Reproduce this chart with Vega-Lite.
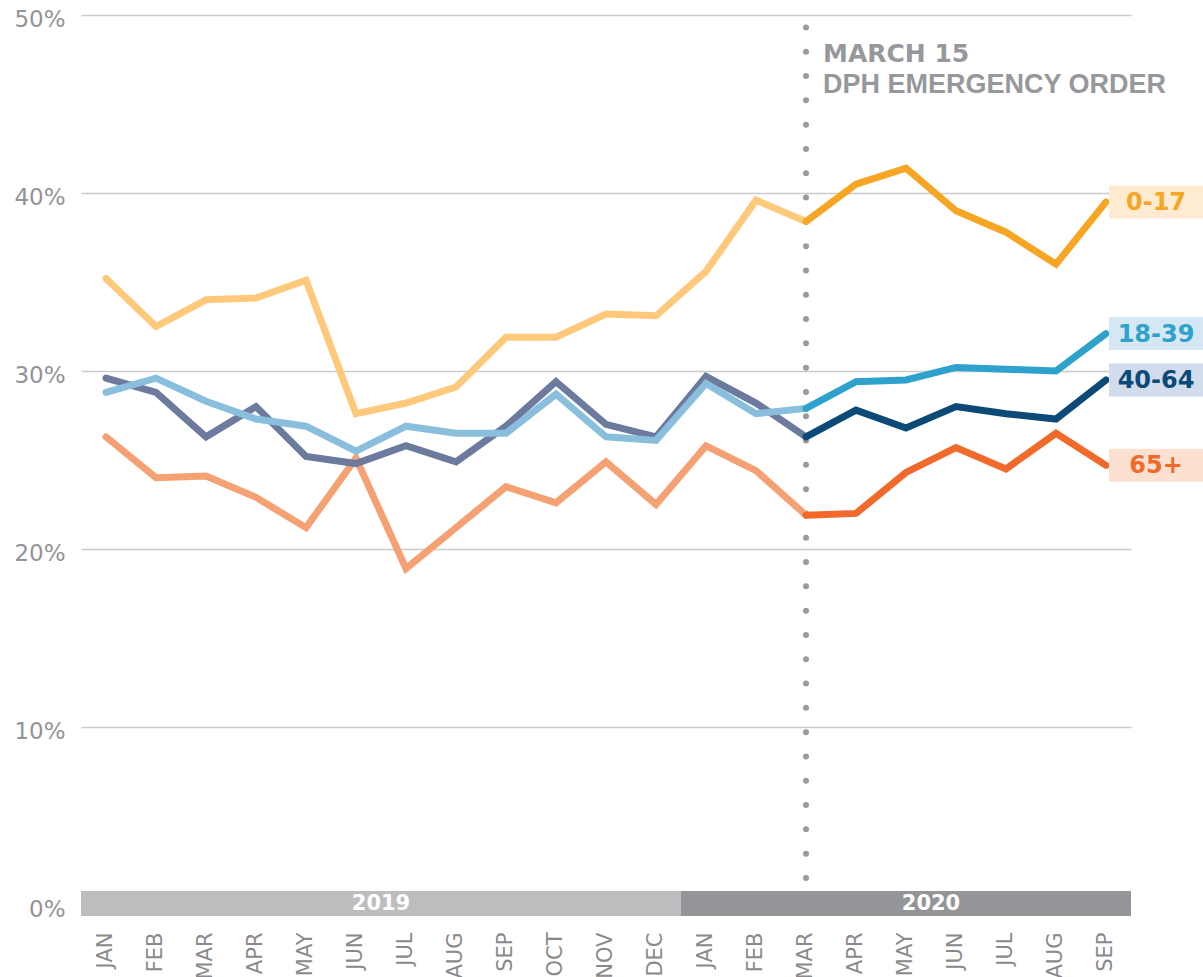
{
  "$schema": "https://vega.github.io/schema/vega-lite/v6.json",
  "width": 1050,
  "height": 890,
  "autosize": "none",
  "padding": {"left": 81, "top": 15, "right": 72, "bottom": 72},
  "background": "white",
  "config": {
    "view": {"stroke": null},
    "axis": {"labelFont": "DejaVu Sans", "labelColor": "#8d8d8f", "domain": false, "ticks": false, "title": null}
  },
  "datasets": {
    "lines": [
      {"m": "2019 JAN", "k": "65+ a", "v": 26.3}, {"m": "2019 FEB", "k": "65+ a", "v": 24.0}, {"m": "2019 MAR", "k": "65+ a", "v": 24.1}, {"m": "2019 APR", "k": "65+ a", "v": 22.9}, {"m": "2019 MAY", "k": "65+ a", "v": 21.2}, {"m": "2019 JUN", "k": "65+ a", "v": 25.1}, {"m": "2019 JUL", "k": "65+ a", "v": 18.9}, {"m": "2019 AUG", "k": "65+ a", "v": 21.2}, {"m": "2019 SEP", "k": "65+ a", "v": 23.5}, {"m": "2019 OCT", "k": "65+ a", "v": 22.6}, {"m": "2019 NOV", "k": "65+ a", "v": 24.9}, {"m": "2019 DEC", "k": "65+ a", "v": 22.5}, {"m": "2020 JAN", "k": "65+ a", "v": 25.8}, {"m": "2020 FEB", "k": "65+ a", "v": 24.4}, {"m": "2020 MAR", "k": "65+ a", "v": 21.9},
      {"m": "2020 MAR", "k": "65+ b", "v": 21.9}, {"m": "2020 APR", "k": "65+ b", "v": 22.0}, {"m": "2020 MAY", "k": "65+ b", "v": 24.3}, {"m": "2020 JUN", "k": "65+ b", "v": 25.7}, {"m": "2020 JUL", "k": "65+ b", "v": 24.5}, {"m": "2020 AUG", "k": "65+ b", "v": 26.5}, {"m": "2020 SEP", "k": "65+ b", "v": 24.7},
      {"m": "2019 JAN", "k": "40-64 a", "v": 29.6}, {"m": "2019 FEB", "k": "40-64 a", "v": 28.8}, {"m": "2019 MAR", "k": "40-64 a", "v": 26.3}, {"m": "2019 APR", "k": "40-64 a", "v": 28.0}, {"m": "2019 MAY", "k": "40-64 a", "v": 25.2}, {"m": "2019 JUN", "k": "40-64 a", "v": 24.8}, {"m": "2019 JUL", "k": "40-64 a", "v": 25.8}, {"m": "2019 AUG", "k": "40-64 a", "v": 24.9}, {"m": "2019 SEP", "k": "40-64 a", "v": 26.9}, {"m": "2019 OCT", "k": "40-64 a", "v": 29.4}, {"m": "2019 NOV", "k": "40-64 a", "v": 27.0}, {"m": "2019 DEC", "k": "40-64 a", "v": 26.3}, {"m": "2020 JAN", "k": "40-64 a", "v": 29.7}, {"m": "2020 FEB", "k": "40-64 a", "v": 28.2}, {"m": "2020 MAR", "k": "40-64 a", "v": 26.3},
      {"m": "2020 MAR", "k": "40-64 b", "v": 26.3}, {"m": "2020 APR", "k": "40-64 b", "v": 27.8}, {"m": "2020 MAY", "k": "40-64 b", "v": 26.8}, {"m": "2020 JUN", "k": "40-64 b", "v": 28.0}, {"m": "2020 JUL", "k": "40-64 b", "v": 27.6}, {"m": "2020 AUG", "k": "40-64 b", "v": 27.3}, {"m": "2020 SEP", "k": "40-64 b", "v": 29.5},
      {"m": "2019 JAN", "k": "18-39 a", "v": 28.8}, {"m": "2019 FEB", "k": "18-39 a", "v": 29.6}, {"m": "2019 MAR", "k": "18-39 a", "v": 28.3}, {"m": "2019 APR", "k": "18-39 a", "v": 27.3}, {"m": "2019 MAY", "k": "18-39 a", "v": 26.9}, {"m": "2019 JUN", "k": "18-39 a", "v": 25.5}, {"m": "2019 JUL", "k": "18-39 a", "v": 26.9}, {"m": "2019 AUG", "k": "18-39 a", "v": 26.5}, {"m": "2019 SEP", "k": "18-39 a", "v": 26.5}, {"m": "2019 OCT", "k": "18-39 a", "v": 28.7}, {"m": "2019 NOV", "k": "18-39 a", "v": 26.3}, {"m": "2019 DEC", "k": "18-39 a", "v": 26.1}, {"m": "2020 JAN", "k": "18-39 a", "v": 29.3}, {"m": "2020 FEB", "k": "18-39 a", "v": 27.6}, {"m": "2020 MAR", "k": "18-39 a", "v": 27.9},
      {"m": "2020 MAR", "k": "18-39 b", "v": 27.9}, {"m": "2020 APR", "k": "18-39 b", "v": 29.4}, {"m": "2020 MAY", "k": "18-39 b", "v": 29.5}, {"m": "2020 JUN", "k": "18-39 b", "v": 30.2}, {"m": "2020 JUL", "k": "18-39 b", "v": 30.1}, {"m": "2020 AUG", "k": "18-39 b", "v": 30.0}, {"m": "2020 SEP", "k": "18-39 b", "v": 32.1},
      {"m": "2019 JAN", "k": "0-17 a", "v": 35.2}, {"m": "2019 FEB", "k": "0-17 a", "v": 32.5}, {"m": "2019 MAR", "k": "0-17 a", "v": 34.0}, {"m": "2019 APR", "k": "0-17 a", "v": 34.1}, {"m": "2019 MAY", "k": "0-17 a", "v": 35.1}, {"m": "2019 JUN", "k": "0-17 a", "v": 27.6}, {"m": "2019 JUL", "k": "0-17 a", "v": 28.2}, {"m": "2019 AUG", "k": "0-17 a", "v": 29.1}, {"m": "2019 SEP", "k": "0-17 a", "v": 31.9}, {"m": "2019 OCT", "k": "0-17 a", "v": 31.9}, {"m": "2019 NOV", "k": "0-17 a", "v": 33.2}, {"m": "2019 DEC", "k": "0-17 a", "v": 33.1}, {"m": "2020 JAN", "k": "0-17 a", "v": 35.6}, {"m": "2020 FEB", "k": "0-17 a", "v": 39.6}, {"m": "2020 MAR", "k": "0-17 a", "v": 38.4},
      {"m": "2020 MAR", "k": "0-17 b", "v": 38.4}, {"m": "2020 APR", "k": "0-17 b", "v": 40.5}, {"m": "2020 MAY", "k": "0-17 b", "v": 41.4}, {"m": "2020 JUN", "k": "0-17 b", "v": 39.0}, {"m": "2020 JUL", "k": "0-17 b", "v": 37.8}, {"m": "2020 AUG", "k": "0-17 b", "v": 36.0}, {"m": "2020 SEP", "k": "0-17 b", "v": 39.5}
    ],
    "months": [
      {"m": "2019 JAN", "yr": "2019"}, {"m": "2019 FEB", "yr": "2019"}, {"m": "2019 MAR", "yr": "2019"}, {"m": "2019 APR", "yr": "2019"}, {"m": "2019 MAY", "yr": "2019"}, {"m": "2019 JUN", "yr": "2019"}, {"m": "2019 JUL", "yr": "2019"}, {"m": "2019 AUG", "yr": "2019"}, {"m": "2019 SEP", "yr": "2019"}, {"m": "2019 OCT", "yr": "2019"}, {"m": "2019 NOV", "yr": "2019"}, {"m": "2019 DEC", "yr": "2019"},
      {"m": "2020 JAN", "yr": "2020"}, {"m": "2020 FEB", "yr": "2020"}, {"m": "2020 MAR", "yr": "2020"}, {"m": "2020 APR", "yr": "2020"}, {"m": "2020 MAY", "yr": "2020"}, {"m": "2020 JUN", "yr": "2020"}, {"m": "2020 JUL", "yr": "2020"}, {"m": "2020 AUG", "yr": "2020"}, {"m": "2020 SEP", "yr": "2020"}
    ],
    "yearLabels": [
      {"m": "2019 JUN", "label": "2019"},
      {"m": "2020 MAY", "label": "2020"}
    ],
    "ends": [
      {"m": "2020 SEP", "g": "0-17", "v": 39.5},
      {"m": "2020 SEP", "g": "18-39", "v": 32.1},
      {"m": "2020 SEP", "g": "40-64", "v": 29.5},
      {"m": "2020 SEP", "g": "65+", "v": 24.7}
    ],
    "event": [
      {"m": "2020 MAR", "line1": "MARCH 15", "line2": "DPH EMERGENCY ORDER"}
    ]
  },
  "encoding": {
    "x": {
      "field": "m",
      "type": "ordinal",
      "sort": null,
      "scale": {"type": "band", "paddingInner": 0, "paddingOuter": 0, "domain": ["2019 JAN", "2019 FEB", "2019 MAR", "2019 APR", "2019 MAY", "2019 JUN", "2019 JUL", "2019 AUG", "2019 SEP", "2019 OCT", "2019 NOV", "2019 DEC", "2020 JAN", "2020 FEB", "2020 MAR", "2020 APR", "2020 MAY", "2020 JUN", "2020 JUL", "2020 AUG", "2020 SEP"]},
      "axis": {"labelExpr": "slice(datum.value, 5)", "labelAngle": -90, "labelAlign": "right", "labelBaseline": "middle", "labelPadding": 27, "labelFontSize": 21, "labelColor": "#8a8a8c", "grid": false}
    }
  },
  "layer": [
    {
      "data": {"name": "months"},
      "mark": {"type": "rect"},
      "encoding": {
        "y": {"datum": 0.79, "type": "quantitative", "scale": {"domain": [0, 50], "nice": false}, "axis": {"values": [0, 10, 20, 30, 40, 50], "labelExpr": "datum.value + '%'", "labelFontSize": 23, "labelColor": "#939395", "labelPadding": 16, "labelOffset": 4, "grid": true, "gridColor": "#cbcbcd", "gridWidth": 1.5}},
        "y2": {"datum": -0.62},
        "color": {"field": "yr", "type": "nominal", "scale": {"domain": ["2019", "2020"], "range": ["#bcbdbf", "#939598"]}, "legend": null}
      }
    },
    {
      "data": {"name": "yearLabels"},
      "mark": {"type": "text", "color": "white", "font": "DejaVu Sans", "fontWeight": "bold", "fontSize": 21, "dx": 25, "baseline": "middle", "align": "center"},
      "encoding": {
        "x": {"field": "m", "type": "ordinal", "bandPosition": 0.5},
        "y": {"datum": 0.05, "type": "quantitative"},
        "text": {"field": "label"}
      }
    },
    {
      "data": {"name": "event"},
      "mark": {"type": "rule", "color": "#9a9a9c", "strokeWidth": 6, "strokeDash": [0, 24.3], "strokeCap": "round"},
      "encoding": {
        "x": {"field": "m", "type": "ordinal", "bandPosition": 0.5},
        "y": {"datum": 49.3, "type": "quantitative"},
        "y2": {"datum": 1.2}
      }
    },
    {
      "data": {"name": "event"},
      "mark": {"type": "text", "color": "#97989b", "font": "DejaVu Sans", "fontWeight": "bold", "fontSize": 25, "dx": 17, "align": "left", "baseline": "alphabetic"},
      "encoding": {
        "x": {"field": "m", "type": "ordinal", "bandPosition": 0.5},
        "y": {"datum": 47.35, "type": "quantitative"},
        "text": {"field": "line1"}
      }
    },
    {
      "data": {"name": "event"},
      "mark": {"type": "text", "color": "#97989b", "font": "Liberation Sans", "fontWeight": "bold", "fontSize": 27, "dx": 17, "align": "left", "baseline": "alphabetic"},
      "encoding": {
        "x": {"field": "m", "type": "ordinal", "bandPosition": 0.5},
        "y": {"datum": 45.6, "type": "quantitative"},
        "text": {"field": "line2"}
      }
    },
    {
      "data": {"name": "lines"},
      "mark": {"type": "line", "strokeWidth": 7, "strokeCap": "round", "strokeJoin": "miter"},
      "encoding": {
        "x": {"field": "m", "type": "ordinal", "bandPosition": 0.5},
        "y": {"field": "v", "type": "quantitative"},
        "color": {"field": "k", "type": "nominal", "scale": {"domain": ["65+ a", "65+ b", "40-64 a", "40-64 b", "18-39 a", "18-39 b", "0-17 a", "0-17 b"], "range": ["#f6a173", "#f1692b", "#6c7a9e", "#0b4a77", "#89bedd", "#2ea2cc", "#ffc97b", "#f6a623"]}, "legend": null}
      }
    },
    {
      "data": {"name": "ends"},
      "mark": {"type": "point", "filled": true, "opacity": 1, "size": 10000, "shape": "M0.06,-0.33L1.94,-0.33L1.94,0.33L0.06,0.33Z"},
      "encoding": {
        "x": {"field": "m", "type": "ordinal", "bandPosition": 0.5},
        "y": {"field": "v", "type": "quantitative"},
        "fill": {"field": "g", "type": "nominal", "scale": {"domain": ["0-17", "18-39", "40-64", "65+"], "range": ["#feebd1", "#d5e7f3", "#d2dcec", "#fde1d0"]}, "legend": null}
      }
    },
    {
      "data": {"name": "ends"},
      "mark": {"type": "text", "font": "DejaVu Sans", "fontWeight": "bold", "fontSize": 24, "dx": 50, "dy": 1, "align": "center", "baseline": "middle"},
      "encoding": {
        "x": {"field": "m", "type": "ordinal", "bandPosition": 0.5},
        "y": {"field": "v", "type": "quantitative"},
        "text": {"field": "g"},
        "color": {"field": "g", "type": "nominal", "scale": {"domain": ["0-17", "18-39", "40-64", "65+"], "range": ["#f6a623", "#2ea2cc", "#0b4a77", "#f1692b"]}, "legend": null}
      }
    }
  ],
  "resolve": {"scale": {"color": "independent", "fill": "independent"}}
}
